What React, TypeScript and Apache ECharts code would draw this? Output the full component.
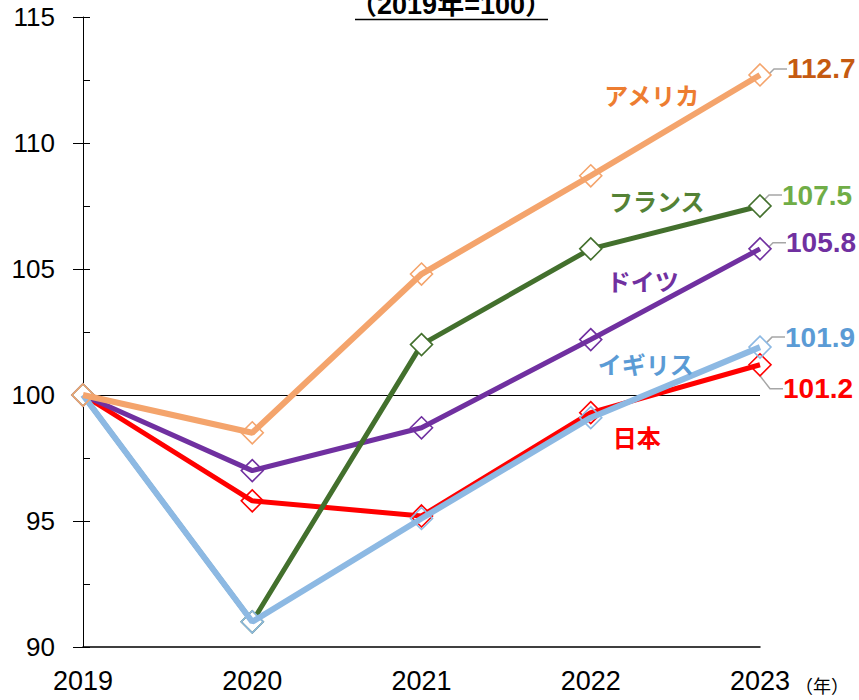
import React, { useEffect, useRef } from 'react';
import * as echarts from 'echarts';

const years = ['2019', '2020', '2021', '2022', '2023'];
const usa = [100, 98.5, 104.8, 108.7, 112.7];
const france = [100, 91.0, 102.0, 105.8, 107.5];
const germany = [100, 97.0, 98.7, 102.2, 105.8];
const uk = [100, 91.0, 95.1, 99.1, 101.9];
const japan = [100, 95.8, 95.2, 99.3, 101.2];
const yMin = 90;
const yMax = 115;
const yStep = 5;
const baseline = 100;
const titleText = '（2019年=100）';
const unitText = '（年）';

const LATIN = "'Liberation Sans', 'Noto Sans CJK JP', sans-serif";
const CJK = "'Noto Sans CJK JP', sans-serif";

// style definitions (draw order: last is on top)
const defs = [
  { name: '日本', data: japan, line: '#FF0000', nameColor: '#FF0000', valColor: '#FF0000', fill: 'rgba(0,0,0,0)', width: 5, nameOffset: [46, 24], valDx: 13, valDy: 24 },
  { name: 'ドイツ', data: germany, line: '#7030A0', nameColor: '#7030A0', valColor: '#7030A0', fill: 'rgba(0,0,0,0)', width: 5, nameOffset: [52, -59], valDx: 16, valDy: -6 },
  { name: 'フランス', data: france, line: '#43702D', nameColor: '#548235', valColor: '#70AD47', fill: '#FFFFFF', width: 5, nameOffset: [66, -48], valDx: 12, valDy: -11 },
  { name: 'イギリス', data: uk, line: '#8DB9E3', nameColor: '#5B9BD5', valColor: '#5B9BD5', fill: 'rgba(0,0,0,0)', width: 6, nameOffset: [55, -54], valDx: 15, valDy: -10 },
  { name: 'アメリカ', data: usa, line: '#F4A46C', nameColor: '#ED7D31', valColor: '#C55A11', fill: 'rgba(0,0,0,0)', width: 6, nameOffset: [61, -81], valDx: 17, valDy: -6 },
];

export default function App() {
  const ref = useRef<HTMLDivElement>(null);
  useEffect(() => {
    document.body.style.margin = '0';
    const chart = echarts.init(ref.current!, undefined, { renderer: 'svg' });
    const last = years.length - 1;
    const series: any[] = defs.map((d, si) => ({
      type: 'line',
      name: d.name,
      data: d.data.map((v, i) => {
        if (i === last - 1) {
          return {
            value: v,
            label: {
              show: true,
              position: 'inside',
              formatter: d.name,
              fontFamily: CJK,
              fontWeight: 'bold',
              fontSize: 24,
              color: d.nameColor,
            },
          };
        }
        if (i === last) {
          return {
            value: v,
            label: {
              show: true,
              position: 'right',
              formatter: v.toFixed(1),
              fontFamily: LATIN,
              fontWeight: 'bold',
              fontSize: 28,
              color: d.valColor,
              padding: [0, 0, 0, 10],
            },
            labelLine: {
              show: true,
              length2: 13,
              minTurnAngle: 30,
              lineStyle: { color: '#A6A6A6', width: 1.5 },
            },
          };
        }
        return v;
      }),
      symbol: 'diamond',
      symbolSize: 22,
      showAllSymbol: true,
      lineStyle: { color: d.line, width: d.width },
      itemStyle: { color: d.fill, borderColor: d.line, borderWidth: 1.6 },
      labelLayout: (p: any) => {
        if (p.dataIndex === last - 1) {
          return { dx: d.nameOffset[0], dy: d.nameOffset[1] };
        }
        if (p.dataIndex !== last) return {};
        const r = p.rect;
        const cx = r.x + r.width / 2;
        const cy = r.y + r.height / 2;
        return { x: cx + d.valDx, y: cy + d.valDy, align: 'left', verticalAlign: 'middle' };
      },
      markLine: si === 0 ? {
        silent: true,
        symbol: 'none',
        label: { show: false },
        lineStyle: { color: '#000', width: 1, type: 'solid' },
        data: [{ yAxis: baseline }],
        z: 1,
      } : undefined,
      z: 2 + si,
    }));

    chart.setOption({
      animation: false,
      textStyle: { fontFamily: LATIN },
      grid: { left: 83, right: 99, top: 17, bottom: 53, containLabel: false },
      xAxis: {
        type: 'category',
        data: years,
        boundaryGap: false,
        axisLine: { lineStyle: { color: '#000', width: 1.5 } },
        axisTick: { show: false },
        axisLabel: { color: '#000', fontSize: 27, margin: 20, fontFamily: LATIN },
        splitLine: { show: false },
      },
      yAxis: [
        {
          type: 'value',
          position: 'left',
          min: yMin,
          max: yMax,
          interval: yStep,
          axisLine: { show: true, lineStyle: { color: '#000', width: 1 } },
          axisTick: { show: true, inside: false, length: 10, lineStyle: { color: '#000', width: 1 } },
          axisLabel: { color: '#000', fontSize: 26, margin: 28, fontFamily: LATIN },
          splitLine: { show: false },
        },
        {
          type: 'value',
          position: 'left',
          min: yMin,
          max: yMax,
          interval: yStep / 2,
          axisLine: { show: false },
          axisTick: { show: true, inside: true, length: 7, lineStyle: { color: '#000', width: 1 } },
          axisLabel: { show: false },
          splitLine: { show: false },
        },
      ],
      series,
      graphic: [
        {
          type: 'text',
          x: 451,
          y: 5,
          style: {
            text: titleText,
            font: `bold 27px ${LATIN}`,
            fill: '#000',
            align: 'center',
            textAlign: 'center',
            verticalAlign: 'middle',
            textVerticalAlign: 'middle',
          },
        },
        {
          type: 'line',
          shape: { x1: 355, y1: 19.5, x2: 548, y2: 19.5 },
          style: { stroke: '#000', lineWidth: 1.5 },
        },
        {
          type: 'text',
          x: 795,
          y: 685,
          style: {
            text: unitText,
            font: `18px ${CJK}`,
            fill: '#000',
            align: 'left',
            textAlign: 'left',
            verticalAlign: 'middle',
            textVerticalAlign: 'middle',
          },
        },
      ],
    });
    return () => chart.dispose();
  }, []);
  return <div ref={ref} style={{ width: 859, height: 700 }} />;
}
